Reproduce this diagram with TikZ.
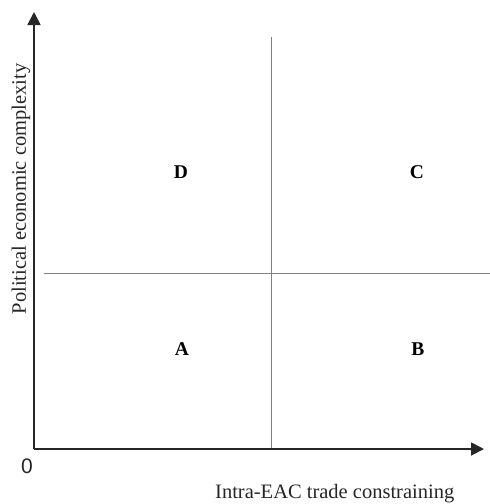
\documentclass[tikz,border=0pt]{standalone}
\usepackage{fontspec}
\setmainfont{Liberation Serif}
\newfontfamily\zerofont{Liberation Sans}
\usetikzlibrary{arrows.meta}
\begin{document}
\begin{tikzpicture}[x=1pt,y=-1pt,
  axis/.style={line width=1.8pt,draw=black!85,-{Triangle[length=13pt,width=13pt]}},
  divider/.style={line width=1pt,draw=black!50},
  quad/.style={font=\bfseries\fontsize{19.5}{22}\selectfont,inner sep=0pt},
  axlabel/.style={font=\fontsize{20.5}{23}\selectfont,inner sep=0pt,text=black!85}]
\useasboundingbox (0,0) rectangle (490,504);
\coordinate (O) at (34,449);
\coordinate (ytip) at (34,12);
\coordinate (xtip) at (484,449);
\coordinate (hl) at (44,273);
\coordinate (hr) at (490,273);
\coordinate (vt) at (271,37);
\coordinate (vb) at (271,449);
\draw[divider] (hl) -- (hr);
\draw[divider] (vt) -- (vb);
\draw[axis] (O) -- (ytip);
\draw[axis] (O) -- (xtip);
\node[quad] (D) at (181,172) {D};
\node[quad] (C) at (417,172) {C};
\node[quad] (A) at (182,349) {A};
\node[quad] (B) at (418,349) {B};
\node[inner sep=0pt,font=\zerofont\fontsize{21}{24}\selectfont,text=black!85] (zero) at (27,466) {0};
\node[axlabel,anchor=base west] (xl) at (215,498.5) {Intra-EAC trade constraining};
\node[axlabel,rotate=90] (yl) at (21,189) {Political economic complexity};
\end{tikzpicture}
\end{document}
